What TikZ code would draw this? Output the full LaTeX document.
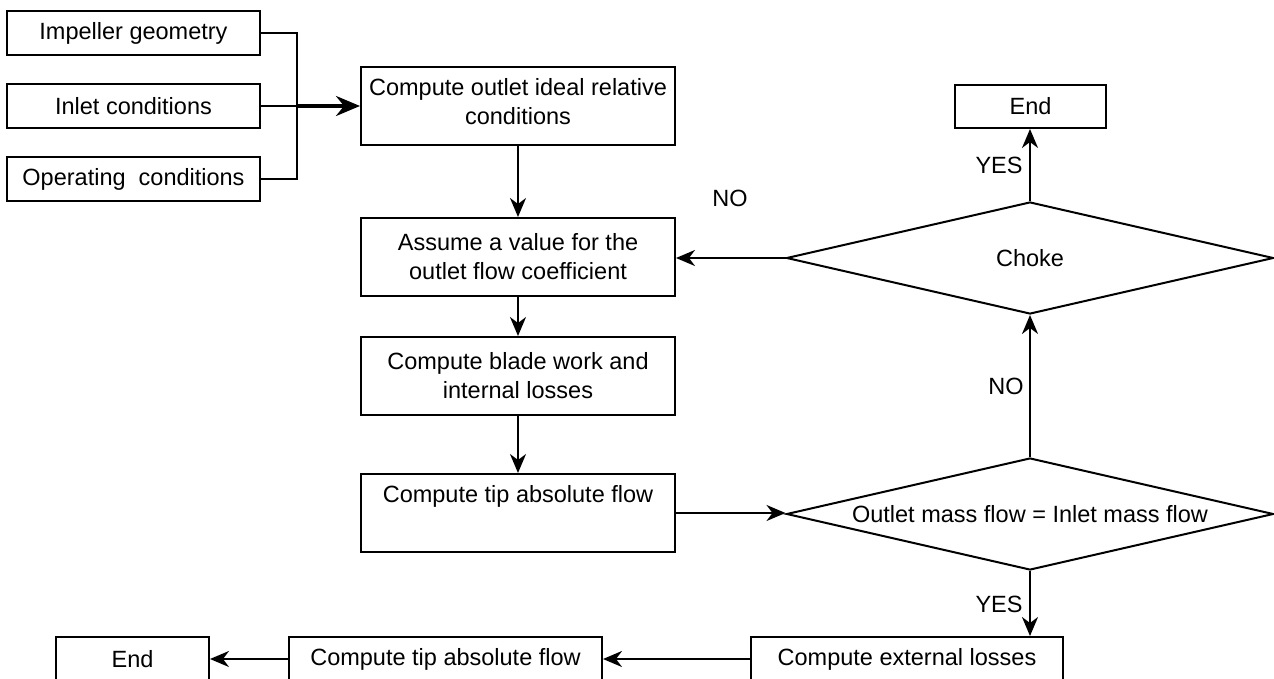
\documentclass[tikz,border=0pt]{standalone}
\usepackage{fontspec}
\setmainfont{Liberation Sans}
\usetikzlibrary{shapes.geometric,arrows.meta}

\begin{document}
\begin{tikzpicture}[x=1pt,y=-1pt,
  every node/.style={font=\fontsize{23.5}{29}\selectfont},
  box/.style={draw, line width=2pt, rectangle, align=center, inner sep=2pt,
              minimum width=314pt, minimum height=78pt},
  smallbox/.style={draw, line width=2pt, rectangle, align=center, inner sep=2pt,
              minimum width=253pt, minimum height=44pt},
  decision/.style={draw, line width=2pt, diamond, aspect=4.35, inner sep=0pt, align=center,
              minimum width=487pt, minimum height=112pt},
  flow/.style={line width=2pt, -{Stealth[length=19pt,width=16pt,inset=6pt]}},
  feed/.style={line width=2pt},
  tag/.style={inner sep=0pt}
]
\useasboundingbox (0,0) rectangle (1274,679);
\clip (0,0) rectangle (1274,679);

% inputs
\node[smallbox] (geo) at (133.5,33)  {Impeller geometry};
\node[smallbox] (inl) at (133.5,106) {Inlet conditions};
\node[smallbox] (ope) at (133.5,179) {Operating~~conditions};
\coordinate (join) at (297,106);

% main column
\node[box] (ideal)  at (518,106) {Compute outlet ideal relative\\conditions\\[-19pt]};
\node[box] (assume) at (518,257) {Assume a value for the\\outlet flow coefficient};
\node[box] (blade)  at (518,376) {Compute blade work and\\internal losses};
\node[box] (tip)    at (518,513) {Compute tip absolute flow\\\strut};

% decisions
\node[decision] (mass)  at (1030,514) {Outlet mass flow = Inlet mass flow};
\node[decision] (choke) at (1030,258) {Choke};
\node[smallbox, minimum width=151pt, minimum height=43pt] (endtop) at (1030.5,106.5) {End};

% bottom row
\node[box, minimum width=312pt, minimum height=44pt] (ext) at (907,659) {Compute external losses};
\node[box, minimum width=313pt, minimum height=44pt] (tip2) at (445.5,659) {Compute tip absolute flow};
\node[smallbox, minimum width=153pt] (endbot) at (132.5,659) {End};

% input merge
\draw[feed] (geo.east) -| (join);
\draw[feed] (ope.east) -| (join);
\draw[feed] (inl.east) -- (join);
\draw[line width=3.5pt, -{Stealth[length=24pt,width=20pt,inset=8pt]}] (join) -- (ideal.west);

% main flow
\draw[flow] (ideal) -- (assume);
\draw[flow] (assume) -- (blade);
\draw[flow] (blade) -- (tip);
\draw[flow] (tip.east) -- (tip.east -| mass.west);
\draw[flow] (mass.north) -- (choke.south);
\draw[flow] (choke.west) -- (choke.west -| assume.east);
\draw[flow] (choke.north) -- (choke.north |- endtop.south);
\draw[flow] (mass.south) -- (mass.south |- ext.north);
\draw[flow] (ext.west) -- (tip2.east);
\draw[flow] (tip2.west) -- (endbot.east);

% branch labels
\node[tag] (no1)  at (730,198)  {NO};
\node[tag] (no2)  at (1006,386) {NO};
\node[tag] (yes1) at (999,165)  {YES};
\node[tag] (yes2) at (999,604)  {YES};
\end{tikzpicture}
\end{document}
